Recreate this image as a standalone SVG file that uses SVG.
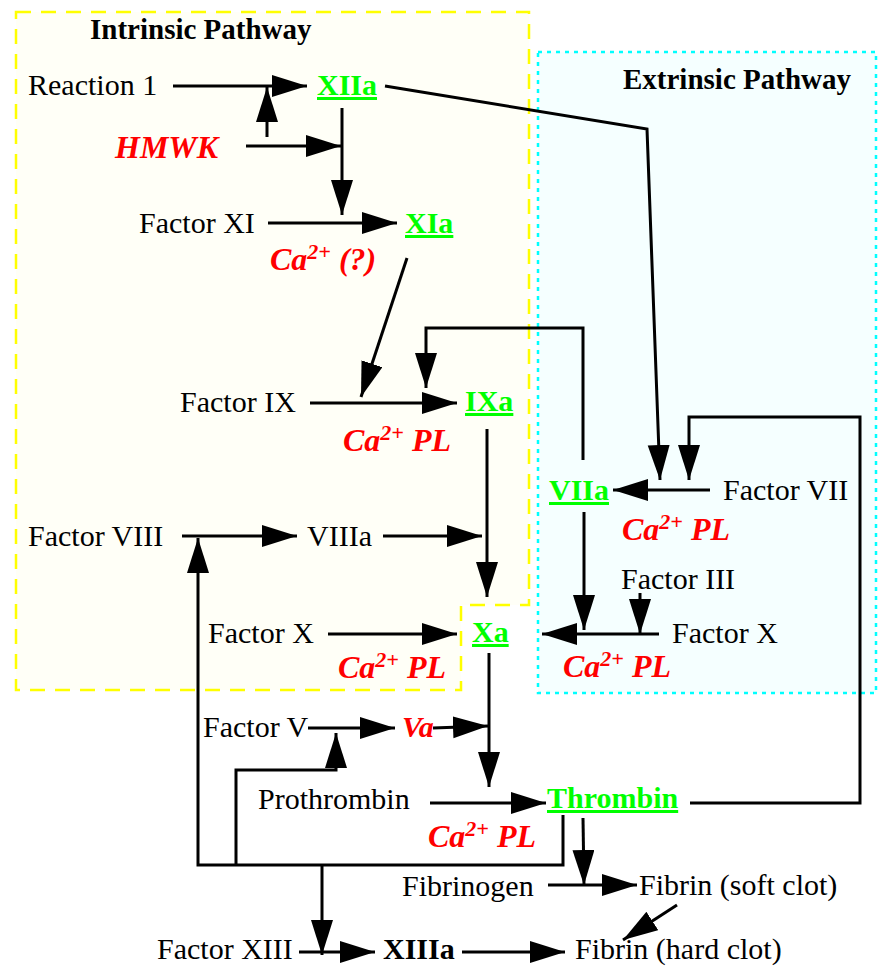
<svg xmlns="http://www.w3.org/2000/svg" width="880" height="966" viewBox="0 0 880 966">
<style>
text{font-family:"Liberation Serif","Times New Roman",serif;font-size:30px;fill:#000}
.b{font-weight:bold;font-size:29px}
.g{font-weight:bold;fill:#00ff00;text-decoration:underline}
.r{font-weight:bold;font-style:italic;fill:#ff0000;font-size:32px}
.sup{font-size:22px}
.c line,.c path,.c polyline{stroke:#000;stroke-width:3;fill:none}
.a{marker-end:url(#ah)}
</style>
<defs>
<marker id="ah" markerUnits="userSpaceOnUse" markerWidth="36" markerHeight="24" refX="35" refY="11" orient="auto" viewBox="0 0 36 24">
<path d="M0,0 L35,11 L0,22 z" fill="#000"/>
</marker>
</defs>
<rect width="880" height="966" fill="#fff"/>
<g id="intrinsic-box">
<polygon points="16,12 529,12 529,605 461,605 461,690 16,690" fill="#fffff7" stroke="#ffff00" stroke-width="2.5" stroke-dasharray="15,10"/>
<text class="b" x="90" y="39">Intrinsic Pathway</text>
</g>
<g id="extrinsic-box">
<rect x="538" y="52" width="338" height="641" fill="#f5ffff" stroke="#00ffff" stroke-width="2.5" stroke-dasharray="4,5"/>
<text class="b" x="623" y="89">Extrinsic Pathway</text>
</g>
<g class="c" id="connectors">
<line class="a" x1="173" y1="86" x2="307" y2="86"/>
<line class="a" x1="267" y1="137" x2="267" y2="87"/>
<line class="a" x1="246" y1="146" x2="341" y2="146"/>
<line class="a" x1="342" y1="108" x2="342" y2="215"/>
<line class="a" x1="268" y1="223" x2="397" y2="223"/>
<line class="a" x1="407" y1="258" x2="361" y2="397"/>
<line class="a" x1="310" y1="403" x2="457" y2="403"/>
<path class="a" d="M583,460 V328 H426 V388"/>
<path class="a" d="M385,86 L647,129 L660,480"/>
<path class="a" d="M690,803 H860 V417 H689 V480"/>
<line class="a" x1="710" y1="490" x2="613" y2="490"/>
<line class="a" x1="182" y1="536" x2="297" y2="536"/>
<line class="a" x1="383" y1="536" x2="482" y2="536"/>
<line class="a" x1="487" y1="429" x2="487" y2="597"/>
<line class="a" x1="328" y1="634" x2="457" y2="634"/>
<line class="a" x1="659" y1="634" x2="542" y2="634"/>
<line class="a" x1="584" y1="512" x2="584" y2="630"/>
<line class="a" x1="640" y1="593" x2="640" y2="634"/>
<line class="a" x1="489" y1="653" x2="489" y2="787"/>
<line class="a" x1="433" y1="728" x2="488" y2="726"/>
<line class="a" x1="308" y1="728" x2="395" y2="728"/>
<line class="a" x1="430" y1="803" x2="546" y2="803"/>
<path class="a" d="M563,815 V865 H198 V538"/>
<path class="a" d="M236,865 V770 H336 V733"/>
<line class="a" x1="322" y1="865" x2="322" y2="955"/>
<line class="a" x1="583" y1="818" x2="584" y2="885"/>
<line class="a" x1="548" y1="885" x2="637" y2="885"/>
<line class="a" x1="677" y1="905" x2="623" y2="940"/>
<line class="a" x1="299" y1="952" x2="375" y2="952"/>
<line class="a" x1="462" y1="952" x2="565" y2="952"/>
</g>
<g id="reaction1"><text x="28" y="95">Reaction 1</text></g>
<g id="hmwk"><text class="r" x="115" y="158">HMWK</text></g>
<g id="xiia"><text class="g" x="317" y="95">XIIa</text></g>
<g id="factor-xi"><text x="139" y="233">Factor XI</text></g>
<g id="xia"><text class="g" x="405" y="233">XIa</text></g>
<g id="ca-xi"><text class="r" x="270" y="270">Ca<tspan class="sup" dy="-11">2+</tspan><tspan dy="11"> (?)</tspan></text></g>
<g id="factor-ix"><text x="180" y="412">Factor IX</text></g>
<g id="ixa"><text class="g" x="465" y="411">IXa</text></g>
<g id="ca-ix"><text class="r" x="343" y="451">Ca<tspan class="sup" dy="-11">2+</tspan><tspan dy="11"> PL</tspan></text></g>
<g id="viia"><text class="g" x="549" y="500">VIIa</text></g>
<g id="factor-vii"><text x="723" y="500">Factor VII</text></g>
<g id="ca-vii"><text class="r" x="622" y="540">Ca<tspan class="sup" dy="-11">2+</tspan><tspan dy="11"> PL</tspan></text></g>
<g id="factor-viii"><text x="28" y="546">Factor VIII</text></g>
<g id="viiia"><text x="307" y="546">VIIIa</text></g>
<g id="factor-x-left"><text x="208" y="643">Factor X</text></g>
<g id="xa"><text class="g" x="472" y="642">Xa</text></g>
<g id="ca-x-left"><text class="r" x="338" y="678">Ca<tspan class="sup" dy="-11">2+</tspan><tspan dy="11"> PL</tspan></text></g>
<g id="factor-iii"><text x="621" y="589">Factor III</text></g>
<g id="factor-x-right"><text x="672" y="643">Factor X</text></g>
<g id="ca-x-right"><text class="r" x="563" y="677">Ca<tspan class="sup" dy="-11">2+</tspan><tspan dy="11"> PL</tspan></text></g>
<g id="factor-v"><text x="203" y="737">Factor V</text></g>
<g id="va"><text class="r" x="402" y="737" style="font-size:30px">Va</text></g>
<g id="prothrombin"><text x="258" y="809">Prothrombin</text></g>
<g id="thrombin"><text class="g" x="547" y="808">Thrombin</text></g>
<g id="ca-pro"><text class="r" x="428" y="847">Ca<tspan class="sup" dy="-11">2+</tspan><tspan dy="11"> PL</tspan></text></g>
<g id="fibrinogen"><text x="402" y="896">Fibrinogen</text></g>
<g id="fibrin-soft"><text x="639" y="895">Fibrin (soft clot)</text></g>
<g id="factor-xiii"><text x="157" y="959">Factor XIII</text></g>
<g id="xiiia"><text class="b" x="383" y="959" style="font-size:30px">XIIIa</text></g>
<g id="fibrin-hard"><text x="575" y="959">Fibrin (hard clot)</text></g>
</svg>
